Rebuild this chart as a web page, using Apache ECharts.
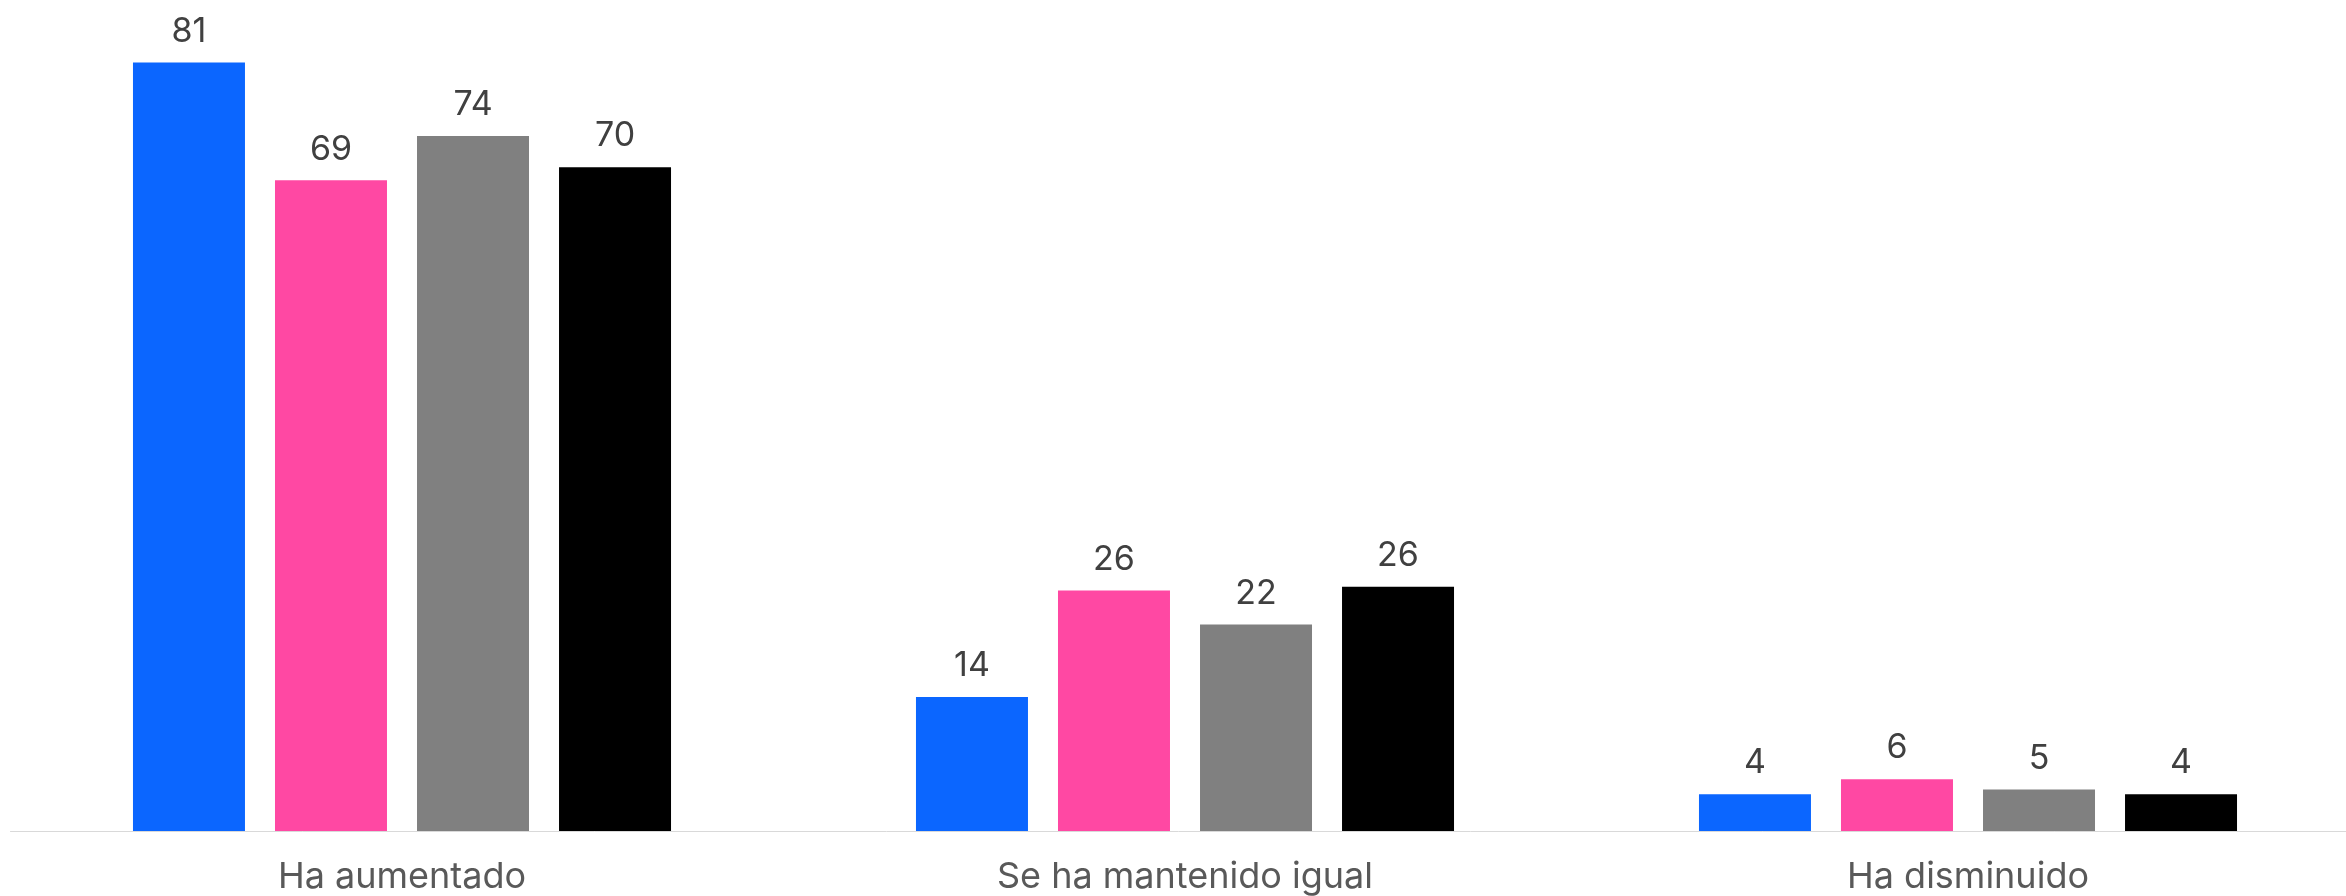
<!DOCTYPE html>
<html>
<head>
<meta charset="utf-8">
<script src="https://cdn.jsdelivr.net/npm/echarts@6/dist/echarts.min.js"></script>
<style>
html,body{margin:0;padding:0;background:#fff;}
#chart{width:2346px;height:896px;}
</style>
</head>
<body>
<div id="chart"></div>
<script>
var categories = ['Ha aumentado', 'Se ha mantenido igual', 'Ha disminuido'];
var seriesNames = ['Serie 1', 'Serie 2', 'Serie 3', 'Serie 4'];
var seriesColors = ['#0b66ff', '#ff48a3', '#808080', '#000000'];
// bar values
var values1 = [81.5, 14.2, 3.9];
var values2 = [69.0, 25.5, 5.5];
var values3 = [73.7, 21.9, 4.4];
var values4 = [70.4, 25.9, 3.9];
// printed labels
var labels1 = [81, 14, 4];
var labels2 = [69, 26, 6];
var labels3 = [74, 22, 5];
var labels4 = [70, 26, 4];

var allValues = [values1, values2, values3, values4];
var allLabels = [labels1, labels2, labels3, labels4];

var chart = echarts.init(document.getElementById('chart'), null, {renderer: 'canvas'});
var series = allValues.map(function (vals, i) {
  return {
    name: seriesNames[i],
    type: 'bar',
    data: vals,
    barWidth: 112,
    barGap: '26.8%',
    itemStyle: {color: seriesColors[i]},
    label: {
      show: true,
      position: 'top',
      distance: 14,
      fontFamily: 'Inter',
      fontSize: 34,
      color: '#404040',
      formatter: function (p) { return String(allLabels[i][p.dataIndex]); }
    }
  };
});
chart.setOption({
  animation: false,
  backgroundColor: '#ffffff',
  grid: {left: 10.5, width: 2349, top: 29.45, height: 801.55, containLabel: false, outerBoundsMode: 'none'},
  xAxis: {
    type: 'category',
    data: categories,
    axisLine: {show: true, lineStyle: {color: '#d9d9d9', width: 1}},
    axisTick: {show: false},
    axisLabel: {fontFamily: 'Inter', fontSize: 36, color: '#595959', margin: 28}
  },
  yAxis: {
    type: 'value',
    min: 0,
    max: 85,
    show: false,
    splitLine: {show: false}
  },
  series: series
});
</script>
</body>
</html>
